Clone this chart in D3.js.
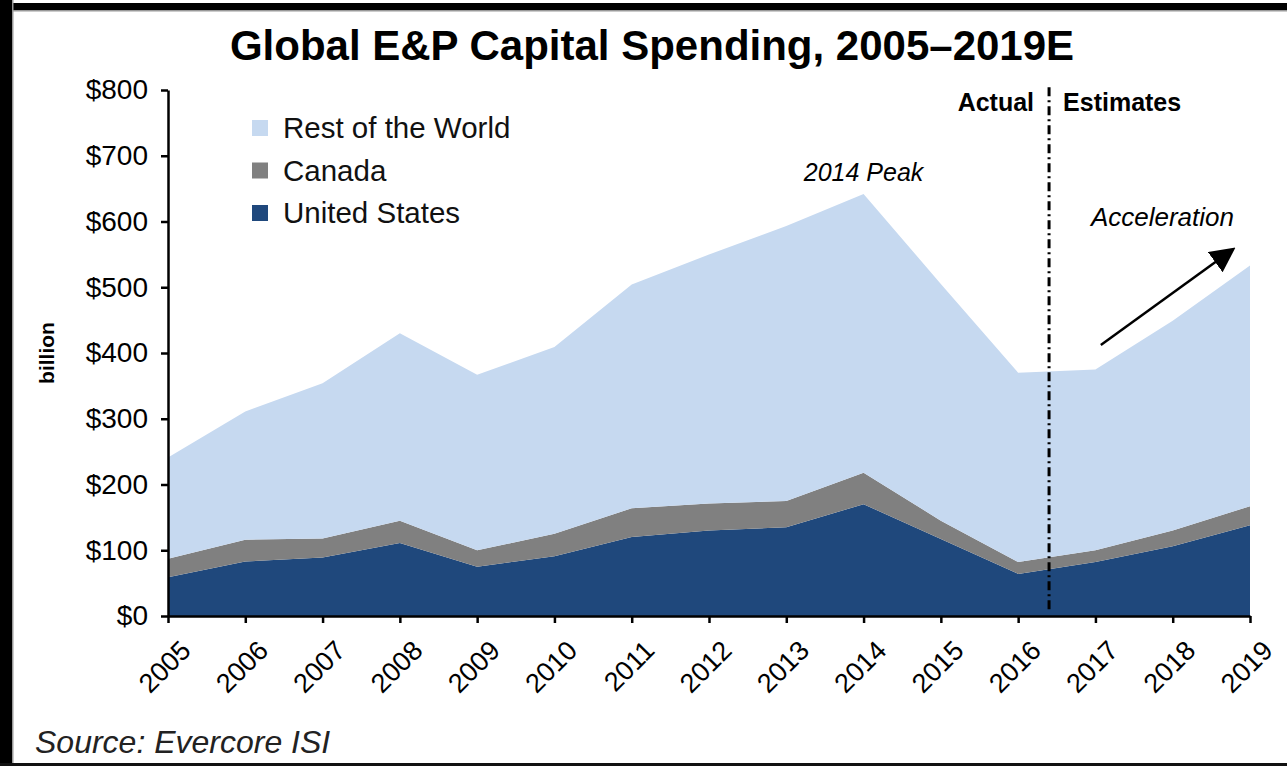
<!DOCTYPE html>
<html>
<head>
<meta charset="utf-8">
<script src="https://cdn.jsdelivr.net/npm/d3@7"></script>
<style>
  html, body { margin: 0; padding: 0; background: #fff; }
  svg { display: block; font-family: "Liberation Sans", Arial, sans-serif; }
</style>
</head>
<body>
<svg id="chart" width="1287" height="766"></svg>
<script>
// Global E&P capital spending, $ billion
const years = [2005, 2006, 2007, 2008, 2009, 2010, 2011, 2012, 2013, 2014, 2015, 2016, 2017, 2018, 2019];
const unitedStates = [59, 83, 89, 111, 75, 91, 120, 130, 135, 170, 117, 64, 82, 106, 138];
const canada       = [28, 33, 29, 34, 25, 34, 44, 41, 40, 48, 28, 18, 18, 24, 29];
const restOfWorld  = [154, 195, 236, 285, 267, 284, 340, 379, 418, 424, 360, 288, 275, 319, 366];
const seriesNames  = ["United States", "Canada", "Rest of the World"];
const seriesColors = ["#1f487c", "#808080", "#c6d9f0"];
const yTicks = [0, 100, 200, 300, 400, 500, 600, 700, 800];
const splitYear = 2016.4;   // boundary between actual and estimates

const svg = d3.select("#chart");
const W = 1287, H = 766;

// frame
svg.append("rect").attr("x", 0).attr("y", 0).attr("width", W).attr("height", H).attr("fill", "#fff");
svg.append("rect").attr("x", 0).attr("y", 10).attr("width", W).attr("height", 1.5).attr("fill", "#999");
svg.append("rect").attr("x", 0).attr("y", 3).attr("width", W).attr("height", 7).attr("fill", "#000");
svg.append("rect").attr("x", 12).attr("y", 0).attr("width", 1.5).attr("height", H).attr("fill", "#999");
svg.append("rect").attr("x", 0).attr("y", 0).attr("width", 12).attr("height", H).attr("fill", "#000");
svg.append("rect").attr("x", 0).attr("y", 763).attr("width", W).attr("height", 3).attr("fill", "#111");

const x = d3.scaleLinear().domain([2005, 2019]).range([168, 1250]);
const y = d3.scaleLinear().domain([0, 800]).range([616, 90]);

const table = years.map((yr, i) => ({
  year: yr,
  "United States": unitedStates[i],
  "Canada": canada[i],
  "Rest of the World": restOfWorld[i]
}));
const stacked = d3.stack().keys(seriesNames)(table);

const area = d3.area()
  .x(d => x(d.data.year))
  .y0(d => y(d[0]))
  .y1(d => y(d[1]));

svg.append("g").selectAll("path")
  .data(stacked)
  .join("path")
  .attr("d", area)
  .attr("fill", (d, i) => seriesColors[i]);

// axes
const yAxis = d3.axisLeft(y).tickValues(yTicks).tickFormat(d => "$" + d).tickSize(7).tickSizeOuter(0);
const gy = svg.append("g").attr("transform", `translate(${x(2005)},0)`).call(yAxis);
gy.select(".domain").attr("stroke", "#000").attr("stroke-width", 2.5);
gy.selectAll(".tick line").attr("stroke", "#000").attr("stroke-width", 2.5);
gy.selectAll(".tick text").attr("font-size", 28).attr("fill", "#000").attr("x", -20);

const xAxis = d3.axisBottom(x).tickValues(years).tickFormat(d3.format("d")).tickSize(7).tickSizeOuter(0);
const gx = svg.append("g").attr("transform", `translate(0,${y(0)})`).call(xAxis);
gx.select(".domain").attr("stroke", "#000").attr("stroke-width", 2.5);
gx.selectAll(".tick line").attr("stroke", "#000").attr("stroke-width", 2.5);
gx.selectAll(".tick text")
  .attr("font-size", 27)
  .attr("fill", "#000")
  .attr("text-anchor", "end")
  .attr("dy", 0)
  .attr("y", 0)
  .attr("transform", "translate(24,36) rotate(-45)");

// actual / estimates divider
svg.append("line")
  .attr("x1", x(splitYear)).attr("x2", x(splitYear))
  .attr("y1", y(804)).attr("y2", y(5))
  .attr("stroke", "#000").attr("stroke-width", 3)
  .attr("stroke-dasharray", "9,4,2,4");

svg.append("text").attr("x", x(splitYear) - 15).attr("y", 111)
  .attr("text-anchor", "end").attr("font-weight", "bold").attr("font-size", 25).text("Actual");
svg.append("text").attr("x", x(splitYear) + 14).attr("y", 111)
  .attr("text-anchor", "start").attr("font-weight", "bold").attr("font-size", 25).text("Estimates");

// annotations
svg.append("text").attr("x", x(2014)).attr("y", y(662))
  .attr("text-anchor", "middle").attr("font-style", "italic").attr("font-size", 25).text("2014 Peak");
svg.append("text").attr("x", x(2019) - 16).attr("y", y(593))
  .attr("text-anchor", "end").attr("font-style", "italic").attr("font-size", 26).text("Acceleration");

svg.append("defs").append("marker")
  .attr("id", "arrowhead")
  .attr("viewBox", "0 0 10 10")
  .attr("refX", 8).attr("refY", 5)
  .attr("markerWidth", 10).attr("markerHeight", 10)
  .attr("markerUnits", "strokeWidth")
  .attr("orient", "auto")
  .append("path").attr("d", "M0,0 L10,5 L0,10 z").attr("fill", "#000");

svg.append("line")
  .attr("x1", x(2017.07)).attr("y1", y(412))
  .attr("x2", x(2018.76)).attr("y2", y(556))
  .attr("stroke", "#000").attr("stroke-width", 2.5)
  .attr("marker-end", "url(#arrowhead)");

// legend
const legendOrder = ["Rest of the World", "Canada", "United States"];
const lg = svg.append("g");
legendOrder.forEach((name, i) => {
  const cy = 128 + i * 42.5;
  lg.append("rect").attr("x", 252).attr("y", cy - 8).attr("width", 16).attr("height", 16)
    .attr("fill", seriesColors[seriesNames.indexOf(name)]);
  lg.append("text").attr("x", 283).attr("y", cy + 10).attr("font-size", 29.5).attr("fill", "#111").text(name);
});

// title, axis label, source
svg.append("text").attr("x", 652).attr("y", 60).attr("text-anchor", "middle")
  .attr("font-weight", "bold").attr("font-size", 42).text("Global E&P Capital Spending, 2005\u20132019E");

svg.append("text").attr("transform", `translate(54,${y(400)}) rotate(-90)`)
  .attr("text-anchor", "middle").attr("font-weight", "bold").attr("font-size", 21).text("billion");

svg.append("text").attr("x", 35).attr("y", 753).attr("font-style", "italic")
  .attr("font-size", 32).attr("fill", "#222").text("Source: Evercore ISI");
</script>
</body>
</html>
